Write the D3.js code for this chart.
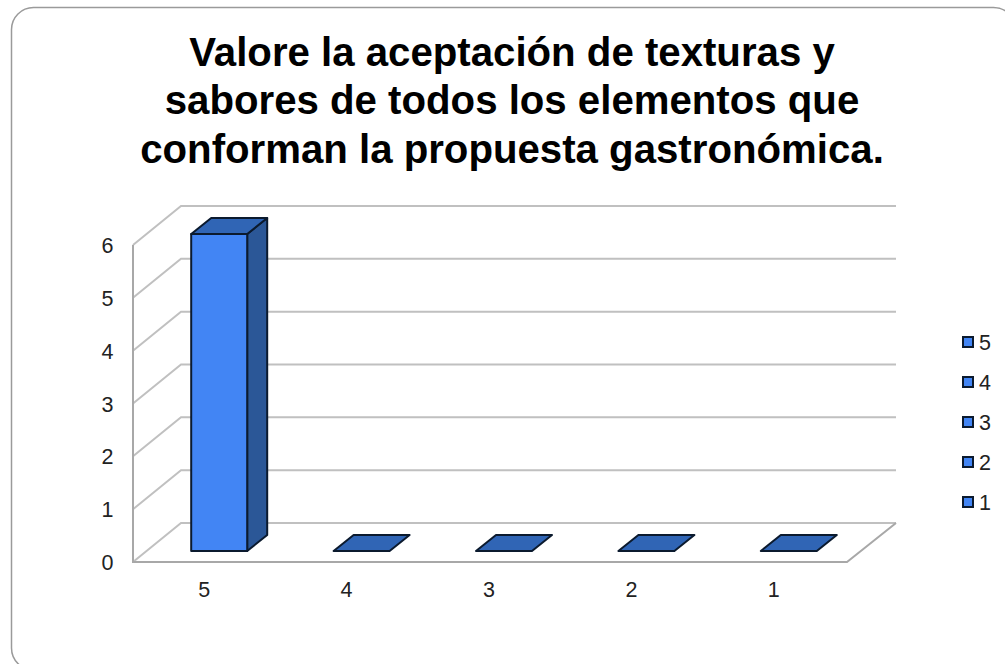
<!DOCTYPE html>
<html>
<head>
<meta charset="utf-8">
<script src="https://cdnjs.cloudflare.com/ajax/libs/d3/7.8.5/d3.min.js"></script>
<style>
    html, body { margin: 0; padding: 0; background: #fff; overflow: hidden; }
    text { font-family: "Liberation Sans", Arial, sans-serif; fill: #222; }
    .title { font-size: 40.2px; font-weight: bold; text-anchor: middle; fill: #000; }
    .tick-label { font-size: 21.5px; }
    .grid { stroke: #c0c0c0; stroke-width: 2; fill: none; }
    .wall { stroke: #a8a8a8; stroke-width: 2; fill: none; }
    .bar { stroke: #0b1a2e; stroke-width: 2; stroke-linejoin: round; }
</style>
</head>
<body>
<svg id="chart" width="1005" height="664"></svg>
<script>
const titleLines = [
    "Valore la aceptación de texturas y",
    "sabores de todos los elementos que",
    "conforman la propuesta gastronómica."
];
const categories = ["5", "4", "3", "2", "1"];
const values = [6, 0, 0, 0, 0];
const yTicks = [0, 1, 2, 3, 4, 5, 6];
const legendLabels = ["5", "4", "3", "2", "1"];

const svg = d3.select("#chart");

// slide frame, runs off the right and bottom of the page
svg.append("rect")
    .attr("x", 11.5).attr("y", 7.5)
    .attr("width", 1004).attr("height", 662.5)
    .attr("rx", 22).attr("ry", 22)
    .attr("fill", "#fff")
    .attr("stroke", "#9a9a9a")
    .attr("stroke-width", 1.5);

svg.selectAll(".title").data(titleLines).enter().append("text")
    .attr("class", "title")
    .attr("x", 512)
    .attr("y", (d, i) => 65.5 + i * 48.5)
    .text(d => d);

// front plane of the 3d box, depth goes up and to the right
const x = d3.scaleBand().domain(categories).range([133, 845]);
const y = d3.scaleLinear().domain([0, 6]).range([562, 245]);
const depth = {x: 48, y: -39};
const barOffset = {x: 15, y: -11};
const barDepth = {x: 20, y: -16};
const barWidth = 56;
const floorRight = 847;
const wallRight = 896;
const line = d3.line();

const walls = svg.append("g");
yTicks.forEach(t => {
    const px = x.range()[0], py = y(t);
    walls.append("path").attr("class", "grid")
        .attr("d", line([[px, py], [px + depth.x, py + depth.y], [wallRight, py + depth.y]]));
});
walls.append("path").attr("class", "wall")
    .attr("d", line([[133, y(6)], [133, y(0)], [floorRight, y(0)], [wallRight, y(0) + depth.y]]));

const bars = svg.append("g");
categories.forEach((c, i) => {
    const x0 = x(c) + (x.bandwidth() - barWidth) / 2 + barOffset.x;
    const x1 = x0 + barWidth;
    const base = y(0) + barOffset.y;
    const top = y(values[i]) + barOffset.y;
    // side
    if (values[i] > 0) {
        bars.append("path").attr("class", "bar").attr("fill", "#2b5797")
            .attr("d", line([[x1, top], [x1 + barDepth.x, top + barDepth.y], [x1 + barDepth.x, base + barDepth.y], [x1, base]]) + "Z");
    }
    // top
    bars.append("path").attr("class", "bar").attr("fill", "#3065b5")
        .attr("d", line([[x0, top], [x0 + barDepth.x, top + barDepth.y], [x1 + barDepth.x, top + barDepth.y], [x1, top]]) + "Z");
    // front
    if (values[i] > 0) {
        bars.append("rect").attr("class", "bar").attr("fill", "#4285f4")
            .attr("x", x0).attr("y", top).attr("width", barWidth).attr("height", base - top);
    }
});

svg.selectAll(".y-label").data(yTicks).enter().append("text")
    .attr("class", "tick-label")
    .attr("text-anchor", "end")
    .attr("x", 113.5)
    .attr("y", d => y(d) + 8)
    .text(d => d);

svg.selectAll(".x-label").data(categories).enter().append("text")
    .attr("class", "tick-label")
    .attr("text-anchor", "middle")
    .attr("x", d => x(d) + x.bandwidth() / 2)
    .attr("y", 597)
    .text(d => d);

const legendY = d3.scalePoint().domain(legendLabels).range([342, 502]);
const legend = svg.selectAll(".legend").data(legendLabels).enter().append("g")
    .attr("transform", d => "translate(963," + legendY(d) + ")");
legend.append("rect")
    .attr("x", 0).attr("y", -5).attr("width", 10).attr("height", 10)
    .attr("fill", "#4285f4").attr("stroke", "#0b1a2e").attr("stroke-width", 2);
legend.append("text").attr("class", "tick-label")
    .attr("x", 16).attr("y", 8)
    .text(d => d);
</script>
</body>
</html>
